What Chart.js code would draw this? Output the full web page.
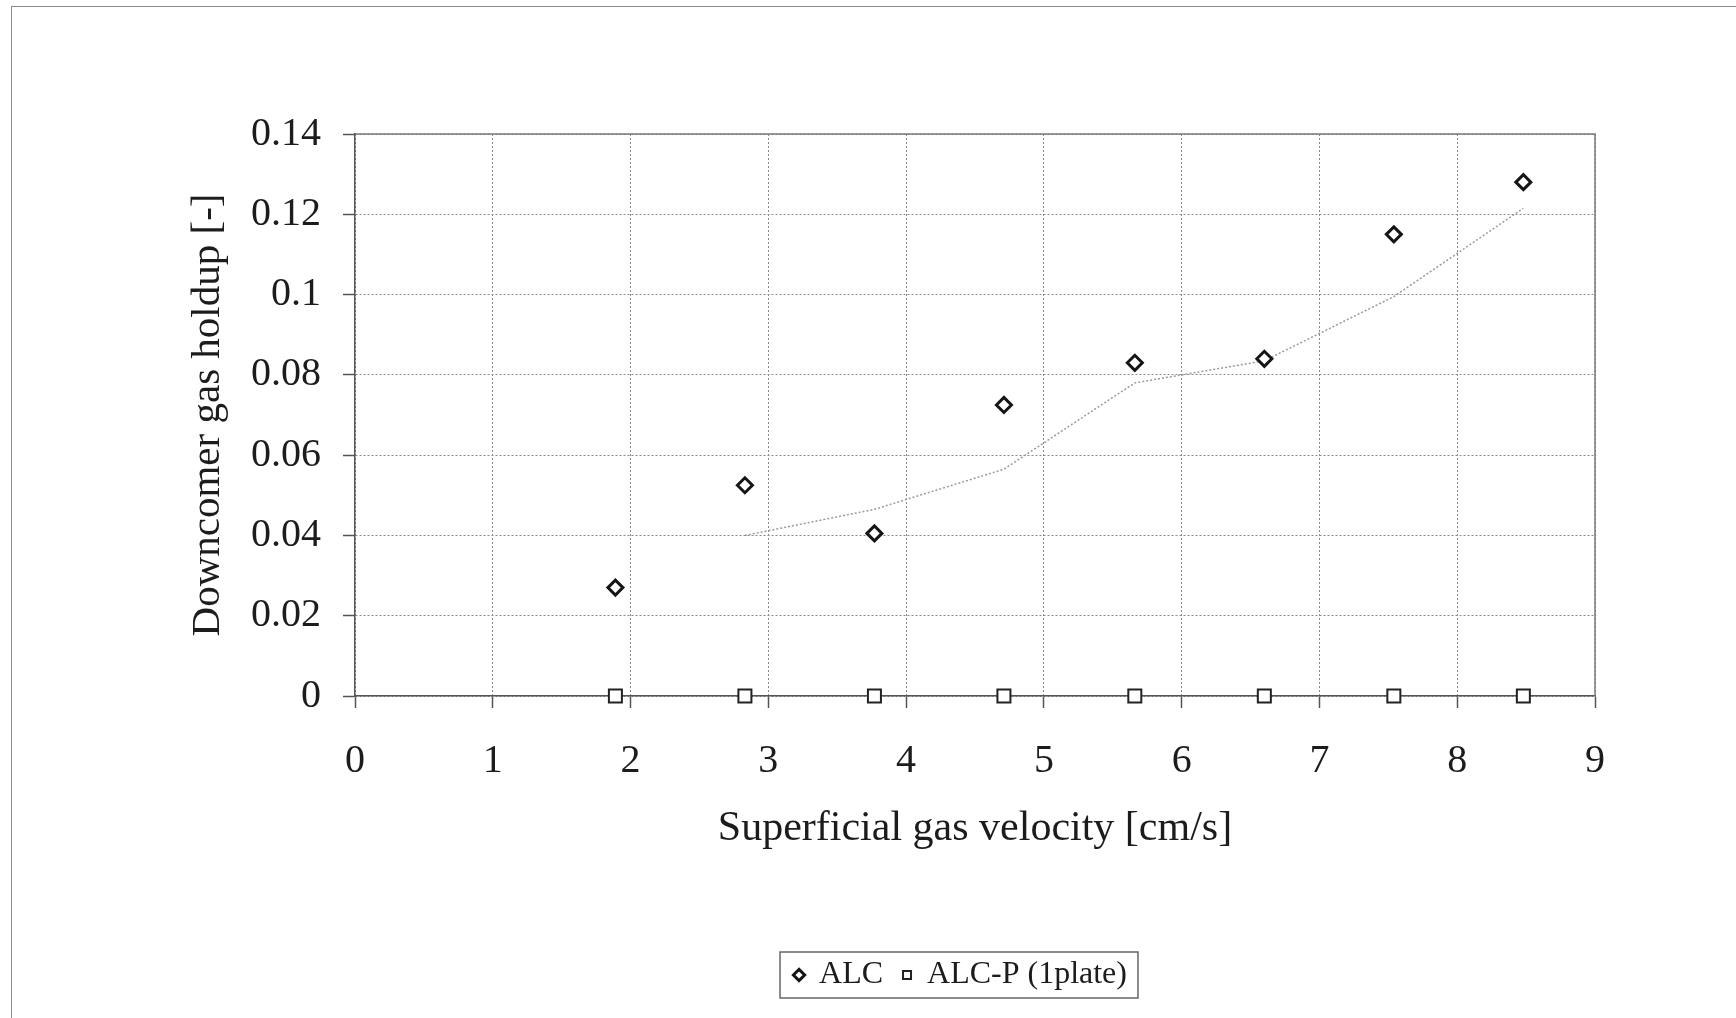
<!DOCTYPE html>
<html>
<head>
<meta charset="utf-8">
<title>Downcomer gas holdup</title>
<script src="https://cdn.jsdelivr.net/npm/chart.js@4.4.0/dist/chart.umd.min.js"></script>
<style>
  html, body { margin: 0; padding: 0; background: #fff; }
  #page { position: relative; width: 1736px; height: 1018px; overflow: hidden; }
  #page::before {
    content: "";
    position: absolute;
    left: 11px; top: 6px; right: 0; bottom: 0;
    border-left: 1px solid #8a8a8a;
    border-top: 1px solid #8a8a8a;
  }
  canvas { position: absolute; left: 0; top: 0; }
</style>
</head>
<body>
<div id="page"><canvas id="holdupChart" width="1736" height="1018"></canvas></div>
<script>
// superficial gas velocity [cm/s]
const velocity = [1.89, 2.83, 3.77, 4.71, 5.66, 6.60, 7.54, 8.48];
// downcomer gas holdup [-]
const holdupALC = [0.027, 0.0525, 0.0405, 0.0725, 0.083, 0.084, 0.115, 0.128];
const holdupPlate = [0, 0, 0, 0, 0, 0, 0, 0];
// gray moving-average trend of the ALC points (starts at 2nd point)
const trendVelocity = velocity.slice(1);
const trendALC = [0.040, 0.0465, 0.0565, 0.078, 0.0835, 0.0995, 0.1215];

const xTicks = [0, 1, 2, 3, 4, 5, 6, 7, 8, 9];
const yTicks = [0, 0.02, 0.04, 0.06, 0.08, 0.1, 0.12, 0.14];

const pts = (xs, ys) => xs.map((x, i) => ({ x: x, y: ys[i] }));

Chart.defaults.font.family = '"Liberation Serif", "Times New Roman", serif';
Chart.defaults.color = "#1c1c1c";

// top + right edges of the plot box
const frameBox = {
  id: "frameBox",
  beforeDatasetsDraw(chart) {
    const { ctx, chartArea: a } = chart;
    ctx.save();
    ctx.strokeStyle = "#7a7a7a";
    ctx.lineWidth = 1.5;
    ctx.beginPath();
    ctx.moveTo(a.left, a.top);
    ctx.lineTo(a.right, a.top);
    ctx.lineTo(a.right, a.bottom);
    ctx.stroke();
    ctx.restore();
  },
};

// legend row sits a bit right of the canvas centre
const legendSpan = {
  id: "legendSpan",
  afterLayout(chart) {
    const lg = chart.legend;
    if (!lg) return;
    lg.left = 326;
    lg.right = 1596;
    lg.width = 1270;
  },
};

// border drawn round the legend items
const legendFrame = {
  id: "legendFrame",
  afterDraw(chart) {
    const boxes = chart.legend && chart.legend.legendHitBoxes;
    if (!boxes || !boxes.length) return;
    const left = Math.min(...boxes.map((b) => b.left)) - 15;
    const right = Math.max(...boxes.map((b) => b.left + b.width)) + 11;
    const cy = boxes[0].top + boxes[0].height / 2;
    const { ctx } = chart;
    ctx.save();
    ctx.strokeStyle = "#666";
    ctx.lineWidth = 1.5;
    ctx.strokeRect(left, cy - 23, right - left, 46);
    ctx.restore();
  },
};

const tickFont = { size: 40 };
const gridOpts = { color: "#8a8a8a", lineWidth: 1, tickLength: 12, tickColor: "#555", tickWidth: 1.5 };

new Chart(document.getElementById("holdupChart"), {
  type: "scatter",
  data: {
    datasets: [
      {
        label: "ALC",
        data: pts(velocity, holdupALC),
        pointStyle: "rectRot",
        pointRadius: 7.5,
        borderWidth: 3,
        borderColor: "#151515",
        backgroundColor: "#fff",
        clip: false,
      },
      {
        label: "ALC-P (1plate)",
        data: pts(velocity, holdupPlate),
        pointStyle: "rect",
        pointRadius: 9.2,
        borderWidth: 2,
        borderColor: "#222",
        backgroundColor: "#fff",
        clip: false,
      },
      {
        label: "trend",
        type: "line",
        data: pts(trendVelocity, trendALC),
        showLine: true,
        pointRadius: 0,
        borderColor: "#9a9a9a",
        borderWidth: 1.5,
        borderDash: [2, 2],
        fill: false,
        tension: 0,
      },
    ],
  },
  options: {
    responsive: false,
    animation: false,
    layout: { padding: { left: 184, right: 141, top: 134, bottom: 17 } },
    scales: {
      x: {
        type: "linear",
        min: 0,
        max: 9,
        afterBuildTicks: (s) => { s.ticks = xTicks.map((v) => ({ value: v })); },
        afterFit: (s) => { s.height = 243; },
        ticks: { font: tickFont, padding: 29, callback: (v) => String(v) },
        grid: gridOpts,
        border: { color: "#555", width: 1.5, dash: [2, 2] },
        title: {
          display: true,
          text: "Superficial gas velocity [cm/s]",
          font: { size: 42 },
          padding: { top: 0, bottom: 85 },
        },
      },
      y: {
        type: "linear",
        min: 0,
        max: 0.14,
        afterBuildTicks: (s) => { s.ticks = yTicks.map((v) => ({ value: v })); },
        afterFit: (s) => { s.width = 171; },
        ticks: { font: tickFont, padding: 22, callback: (v) => String(+v.toFixed(2)) },
        grid: gridOpts,
        border: { color: "#555", width: 1.5, dash: [2, 2] },
        title: {
          display: true,
          text: "Downcomer gas holdup [-]",
          font: { size: 41 },
          padding: { top: 0, bottom: 0 },
        },
      },
    },
    plugins: {
      tooltip: { enabled: false },
      legend: {
        position: "bottom",
        labels: {
          font: { size: 32 },
          usePointStyle: true,
          boxWidth: 8,
          boxHeight: 8,
          padding: 20,
          filter: (item) => item.datasetIndex < 2,
        },
      },
    },
  },
  plugins: [frameBox, legendSpan, legendFrame],
});
</script>
</body>
</html>
